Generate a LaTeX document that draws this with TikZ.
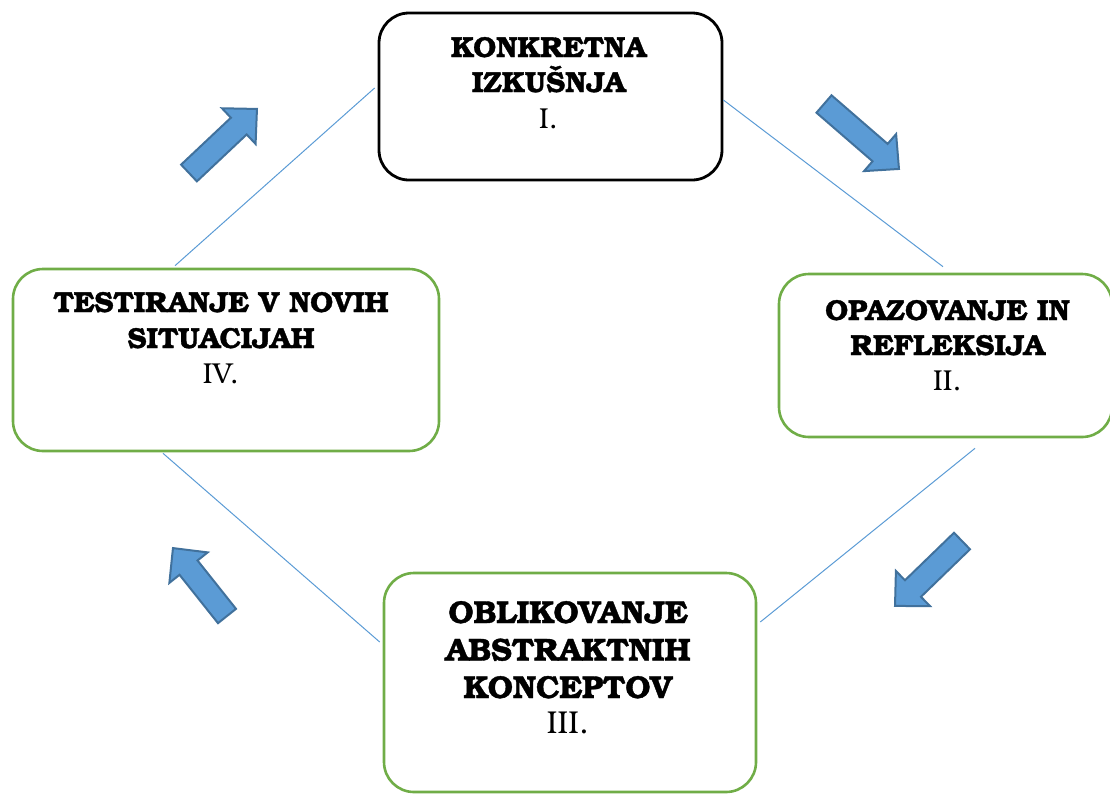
\documentclass[tikz,border=0pt]{standalone}
\usepackage{fontspec}
\setmainfont{TeX Gyre Bonum}[BoldFeatures={FakeBold=1.2}]
\definecolor{lineblue}{HTML}{5B9BD5}
\definecolor{arrowfill}{HTML}{5B9BD5}
\definecolor{arrowedge}{HTML}{41719C}
\definecolor{boxgreen}{HTML}{70AD47}
\tikzset{
  box/.style={rectangle, rounded corners=30pt, line width=2.6pt, inner sep=0pt},
  blackbox/.style={box, draw=black, line width=2.8pt},
  greenbox/.style={box, draw=boxgreen},
  conn/.style={draw=lineblue, line width=1pt},
  barrow/.style={fill=arrowfill, draw=arrowedge, line width=2pt, line join=miter},
  ttl/.style={anchor=base, inner sep=0pt, font=\fontsize{28.8}{34}\selectfont\bfseries},
  num/.style={anchor=base, inner sep=0pt, font=\fontsize{28.8}{34}\selectfont},
  bigttl/.style={ttl, font=\fontsize{31.6}{38}\selectfont\bfseries},
  bignum/.style={num, font=\fontsize{31.6}{38}\selectfont},
}
\newcommand\cyclearrow[4]{%
  \begin{scope}[shift={(#1,#2)},rotate=#3]
    \draw[barrow] (0,-11.5) -- ({#4-25},-11.5) -- ({#4-25},-24.5) -- (#4,0)
      -- ({#4-25},24.5) -- ({#4-25},11.5) -- (0,11.5) -- cycle;
  \end{scope}}
\begin{document}
\begin{tikzpicture}[x=1pt,y=-1pt]
\useasboundingbox (0,0) rectangle (1110,796);
% boxes
\node[blackbox, minimum width=343pt, minimum height=167pt] (I) at (550.5,96.5) {};
\node[greenbox, minimum width=333pt, minimum height=163pt] (II) at (945.5,355.5) {};
\node[greenbox, minimum width=372pt, minimum height=219pt] (III) at (570,682.5) {};
\node[greenbox, minimum width=426pt, minimum height=182pt] (IV) at (226,360) {};
% texts
\node[ttl] (Ia) at (548.5,57) {KONKRETNA};
\node[ttl] (Ib) at (548.5,92) {IZKUŠNJA};
\node[num] (Ic) at (548.5,128) {I.};
\node[ttl] (IIa) at (947.5,320) {OPAZOVANJE IN};
\node[ttl] (IIb) at (947.5,355) {REFLEKSIJA};
\node[num] (IIc) at (947.5,390) {II.};
\node[bigttl] (IIIa) at (568,623) {OBLIKOVANJE};
\node[bigttl] (IIIb) at (568,660.5) {ABSTRAKTNIH};
\node[bigttl] (IIIc) at (568,698) {KONCEPTOV};
\node[bignum] (IIId) at (568,733) {III.};
\node[ttl] (IVa) at (221,312) {TESTIRANJE V NOVIH};
\node[ttl] (IVb) at (221,348) {SITUACIJAH};
\node[num] (IVc) at (221,383) {IV.};
% connectors
\draw[conn] ([shift={(-3,-8.5)}]I.west) -- ([shift={(-51,-2)}]IV.north);
\draw[conn] ([shift={(0,3.5)}]I.east) -- ([shift={(-2.5,-6)}]II.north);
\draw[conn] ([shift={(29.5,10)}]II.south) -- ([shift={(3,-60.5)}]III.east);
\draw[conn] ([shift={(-3,-40.5)}]III.west) -- ([shift={(-63,1)}]IV.south);
% block arrows
\cyclearrow{189}{173}{43.3}{93.4}
\cyclearrow{824}{104}{-40.9}{99.2}
\cyclearrow{962}{541}{224.1}{93.3}
\cyclearrow{227}{616}{128.5}{86.8}
\end{tikzpicture}
\end{document}
